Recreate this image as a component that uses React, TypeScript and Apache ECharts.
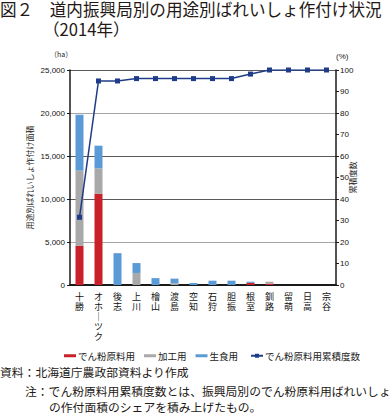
import React, { useEffect, useRef } from "react";
import * as echarts from "echarts";

const categories = ["十勝", "オホーツク", "後志", "上川", "檜山", "渡島", "空知", "石狩", "胆振", "根室", "釧路", "留萌", "日高", "宗谷"];
const starch = [4550, 10600, 0, 0, 0, 0, 0, 0, 0, 250, 150, 0, 0, 0];
const processing = [8750, 2970, 0, 1400, 0, 200, 0, 0, 0, 0, 230, 0, 0, 0];
const fresh = [6500, 2630, 3700, 1150, 800, 540, 230, 500, 500, 130, 0, 0, 0, 0];
const cumulative = [31.5, 94.9, 94.9, 96.0, 96.0, 96.0, 96.0, 96.0, 96.0, 98.1, 100, 100, 100, 100];

const leftTicks = [0, 25000, 5000];
const rightTicks = [0, 100, 10];

const JP = '"Noto Sans CJK JP", "Noto Sans", sans-serif';
const NUM = '"Liberation Sans", Arial, sans-serif';

export default function App() {
  const ref = useRef<HTMLDivElement>(null);
  useEffect(() => {
    document.body.style.margin = "0";
    const chart = echarts.init(ref.current!, null, { renderer: "svg" });
    chart.setOption({
      animation: false,
      backgroundColor: "#ffffff",
      textStyle: { fontFamily: JP },
      grid: { left: 70, right: 55, top: 70, bottom: 130 },
      legend: [
        {
          data: ["でん粉原料用", "加工用", "生食用"],
          left: 59,
          top: 346,
          itemWidth: 12,
          itemHeight: 3,
          itemGap: 9,
          icon: "rect",
          itemStyle: { borderWidth: 0 },
          textStyle: { fontSize: 9.5, color: "#222", fontFamily: JP, padding: [0, 0, 0, -3] },
        },
        {
          data: ["でん粉原料用累積度数"],
          left: 245,
          top: 346,
          itemWidth: 12,
          itemHeight: 5,
          textStyle: { fontSize: 9.5, color: "#222", fontFamily: JP, padding: [0, 0, 0, -3] },
        },
      ],
      xAxis: {
        type: "category",
        data: categories,
        axisLine: { lineStyle: { color: "#1a1a1a", width: 2 } },
        axisTick: { show: false },
        axisLabel: {
          interval: 0,
          margin: 6,
          fontSize: 9,
          lineHeight: 10.2,
          color: "#111",
          fontFamily: JP,
          verticalAlign: "top",
          formatter: (v: string) => v.split("").map((c) => (c === "ー" ? "｜" : c)).join("\n"),
        },
      },
      yAxis: [
        {
          type: "value",
          min: leftTicks[0],
          max: leftTicks[1],
          interval: leftTicks[2],
          name: "用途別ばれいしょ作付け面積",
          nameLocation: "middle",
          nameGap: 37,
          nameMoveOverlap: false,
          nameTextStyle: { fontSize: 8, color: "#222", fontFamily: JP },
          axisLine: { show: true, lineStyle: { color: "#1a1a1a", width: 1.5 } },
          axisTick: { show: true, length: 3, lineStyle: { color: "#1a1a1a" } },
          axisLabel: {
            fontSize: 8,
            color: "#111",
            fontFamily: NUM,
            margin: 5,
            formatter: (v: number) => v.toLocaleString("en-US"),
          },
          splitLine: {
            show: true,
            lineStyle: { color: ["transparent", "#a5a5a5", "#5a5a5a", "#5a5a5a", "#a5a5a5", "#5a5a5a"], width: 1 },
          },
        },
        {
          type: "value",
          min: rightTicks[0],
          max: rightTicks[1],
          interval: rightTicks[2],
          name: "累積度数",
          nameLocation: "middle",
          nameGap: 12,
          nameMoveOverlap: false,
          nameTextStyle: { fontSize: 8, color: "#222", fontFamily: JP },
          axisLine: { show: true, lineStyle: { color: "#1a1a1a", width: 1.5 } },
          axisTick: { show: true, length: 3, lineStyle: { color: "#1a1a1a" } },
          axisLabel: { fontSize: 8, color: "#111", fontFamily: NUM, margin: 4 },
          splitLine: { show: false },
        },
      ],
      series: [
        {
          name: "でん粉原料用",
          type: "bar",
          stack: "area",
          barWidth: 8,
          data: starch,
          itemStyle: { color: "#c9202a" },
        },
        {
          name: "加工用",
          type: "bar",
          stack: "area",
          barWidth: 8,
          data: processing,
          itemStyle: { color: "#a9a9a9" },
        },
        {
          name: "生食用",
          type: "bar",
          stack: "area",
          barWidth: 8,
          data: fresh,
          itemStyle: { color: "#5b9bd5" },
        },
        {
          name: "でん粉原料用累積度数",
          type: "line",
          yAxisIndex: 1,
          data: cumulative,
          symbol: "rect",
          symbolSize: 5,
          lineStyle: { color: "#1f3c88", width: 1.5 },
          itemStyle: { color: "#1f3c88" },
          z: 5,
        },
      ],
      graphic: [
        {
          type: "text",
          left: 0,
          top: 1,
          style: { text: "図２　道内振興局別の用途別ばれいしょ作付け状況", fontSize: 16.6, fontFamily: JP, fill: "#231815" },
        },
        {
          type: "text",
          left: 43,
          top: 21,
          style: { text: "（2014年）", fontSize: 16.6, fontFamily: JP, fill: "#231815" },
        },
        {
          type: "text",
          left: 50,
          top: 50,
          style: { text: "（ha）", fontSize: 7, fontFamily: JP, fill: "#222" },
        },
        {
          type: "text",
          left: 336,
          top: 52,
          style: { text: "(%)", fontSize: 8, fontFamily: NUM, fill: "#222" },
        },
        {
          type: "text",
          left: 0,
          top: 366,
          style: { text: "資料：北海道庁農政部資料より作成", fontSize: 11.8, fontFamily: JP, fill: "#231815" },
        },
        {
          type: "text",
          left: 25,
          top: 385,
          style: { text: "注：でん粉原料用累積度数とは、振興局別のでん粉原料用ばれいしょ", fontSize: 11.8, fontFamily: JP, fill: "#231815" },
        },
        {
          type: "text",
          left: 49,
          top: 401,
          style: { text: "の作付面積のシェアを積み上げたもの。", fontSize: 11.8, fontFamily: JP, fill: "#231815" },
        },
      ],
    });
    return () => chart.dispose();
  }, []);
  return <div ref={ref} style={{ width: 391, height: 415 }} />;
}
